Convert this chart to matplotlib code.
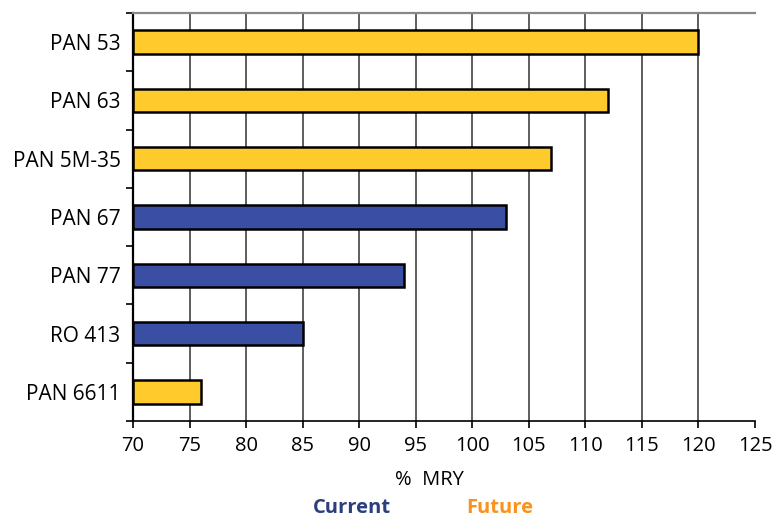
import matplotlib
matplotlib.use("Agg")
import matplotlib.pyplot as plt

categories = ["PAN 53", "PAN 63", "PAN 5M-35", "PAN 67", "PAN 77", "RO 413", "PAN 6611"]
values = [120, 112, 107, 103, 94, 85, 76]
groups = ["Future", "Future", "Future", "Current", "Current", "Current", "Future"]
xticks = [70, 75, 80, 85, 90, 95, 100, 105, 110, 115, 120, 125]

colors = {"Future": "#FFCA2C", "Current": "#3A4FA3"}

plt.rcParams['font.family'] = ['Open Sans', 'DejaVu Sans']

fig = plt.figure(figsize=(7.77, 5.17), dpi=100)
ax = fig.add_axes([0.1712, 0.1857, 0.8005, 0.7892])

ypos = list(range(len(categories)))
ax.barh(ypos, [v - 70 for v in values], left=70, height=0.4,
        color=[colors[g] for g in groups], edgecolor="black", linewidth=1.8, zorder=3)

ax.set_xlim(70, 125)
ax.set_ylim(len(categories) - 0.5, -0.5)
ax.set_xticks(xticks)
ax.set_xticklabels([str(t) for t in xticks], fontsize=14.5)
ax.set_yticks(ypos)
ax.set_yticklabels(categories, fontsize=15)
ax.tick_params(axis='y', which='major', length=0, pad=9)
ax.set_yticks([i - 0.5 for i in range(len(categories) + 1)], minor=True)
ax.tick_params(axis='y', which='minor', length=5, width=1.2, direction='out')
ax.tick_params(axis='x', length=5, width=1.2, direction='out', pad=6)

for t in xticks[1:-1]:
    ax.axvline(t, color="#333333", linewidth=1.1, zorder=1)

ax.spines['right'].set_visible(False)
ax.spines['top'].set_color("#888888")
ax.spines['top'].set_linewidth(1.6)
ax.spines['left'].set_linewidth(1.6)
ax.spines['bottom'].set_linewidth(1.2)

fig.text(0.553, 0.072, "%  MRY", fontsize=14.5, ha='center', va='center')
fig.text(0.453, 0.018, "Current", fontsize=14.5, fontweight='bold', color="#2B3F7E", ha='center', va='center')
fig.text(0.643, 0.018, "Future", fontsize=14.5, fontweight='bold', color="#F7931E", ha='center', va='center')

fig.savefig("out.png", dpi=100)
